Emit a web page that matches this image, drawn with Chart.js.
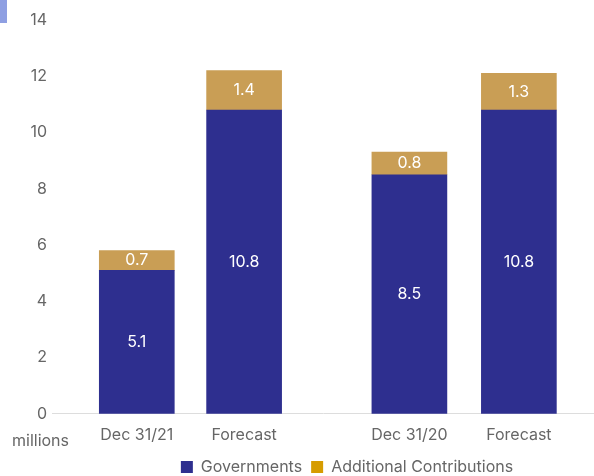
<!DOCTYPE html>
<html>
<head>
<meta charset="utf-8">
<script src="https://cdn.jsdelivr.net/npm/chart.js@4"></script>
<style>
  html, body { margin: 0; padding: 0; background: #fff; }
  #wrap { position: relative; width: 594px; height: 476px; }
  #tab { position: absolute; left: 0; top: 0; width: 7px; height: 23px; background: #8e9fe2; }
</style>
</head>
<body>
<div id="wrap">
  <div id="tab"></div>
  <canvas id="chart" width="594" height="476"></canvas>
</div>
<script>
// datos del gráfico
const categories = ['Dec 31/21', 'Forecast', 'Dec 31/20', 'Forecast'];
const governments = [5.1, 10.8, 8.5, 10.8];
const additional = [0.7, 1.4, 0.8, 1.3];
const yTicks = [0, 2, 4, 6, 8, 10, 12, 14];

// posición de cada barra en el eje x (hay un hueco entre los dos pares)
const slotX = [0, 1, 2.54, 3.56];

const FONT = 'Inter, Roboto, sans-serif';
const SIZE = 16;
const GREY = '#666666';

// etiquetas blancas dentro de cada tramo
const segmentLabels = {
    id: 'segmentLabels',
    afterDatasetsDraw(chart) {
        const ctx = chart.ctx;
        ctx.save();
        ctx.fillStyle = '#ffffff';
        ctx.font = SIZE + 'px ' + FONT;
        ctx.textAlign = 'center';
        ctx.textBaseline = 'middle';
        chart.data.datasets.forEach((ds, i) => {
            chart.getDatasetMeta(i).data.forEach((bar, j) => {
                const v = ds.data[j].y;
                ctx.fillText(String(v), bar.x, (bar.y + bar.base) / 2);
            });
        });
        ctx.restore();
    }
};

// texto "millions" bajo el eje y + mover la leyenda
const extras = {
    id: 'extras',
    afterLayout(chart) {
        const lg = chart.legend;
        lg.left += 50;
        lg.right += 50;
        lg.top -= 7;
        lg.bottom -= 7;
    },
    afterDraw(chart) {
        const ctx = chart.ctx;
        ctx.save();
        ctx.fillStyle = GREY;
        ctx.font = SIZE + 'px ' + FONT;
        ctx.textAlign = 'left';
        ctx.textBaseline = 'middle';
        ctx.fillText('millions', 12, 441);
        ctx.restore();
    }
};

const toPoints = arr => arr.map((v, i) => ({ x: slotX[i], y: v }));

new Chart(document.getElementById('chart'), {
    type: 'bar',
    data: {
        datasets: [
            {
                label: 'Governments',
                data: toPoints(governments),
                backgroundColor: '#2e2f8f',
                barThickness: 75
            },
            {
                label: 'Additional Contributions',
                data: toPoints(additional),
                backgroundColor: '#c99e55',
                barThickness: 75
            }
        ]
    },
    options: {
        responsive: false,
        animation: false,
        layout: { padding: { top: 20, right: 0, bottom: -16, left: 0 } },
        plugins: {
            tooltip: { enabled: false },
            legend: {
                position: 'bottom',
                labels: {
                    boxWidth: 12,
                    boxHeight: 12,
                    color: GREY,
                    font: { family: FONT, size: SIZE },
                    padding: 9,
                    generateLabels(chart) {
                        const cols = ['#2e2f8f', '#d69c00'];
                        return chart.data.datasets.map((ds, i) => ({
                            text: ds.label,
                            fillStyle: cols[i],
                            strokeStyle: cols[i],
                            lineWidth: 0,
                            fontColor: GREY,
                            datasetIndex: i
                        }));
                    }
                }
            }
        },
        scales: {
            x: {
                type: 'linear',
                min: -0.79,
                max: 4.26,
                offset: false,
                bounds: 'data',
                stacked: true,
                grid: { display: false, drawTicks: false },
                border: { display: true, color: '#dddddd' },
                afterBuildTicks(scale) {
                    scale.ticks = slotX.map(v => ({ value: v }));
                },
                ticks: {
                    autoSkip: false,
                    maxRotation: 0,
                    color: GREY,
                    font: { family: FONT, size: SIZE },
                    padding: 12,
                    callback: (value, index) => categories[index]
                }
            },
            y: {
                min: 0,
                max: 14,
                stacked: true,
                grid: { display: false, drawTicks: false },
                border: { display: false },
                afterBuildTicks(scale) {
                    scale.ticks = yTicks.map(v => ({ value: v }));
                },
                afterFit(scale) {
                    scale.width = 52;
                },
                ticks: {
                    color: GREY,
                    font: { family: FONT, size: SIZE },
                    padding: 5
                }
            }
        }
    },
    plugins: [segmentLabels, extras]
});
</script>
</body>
</html>
